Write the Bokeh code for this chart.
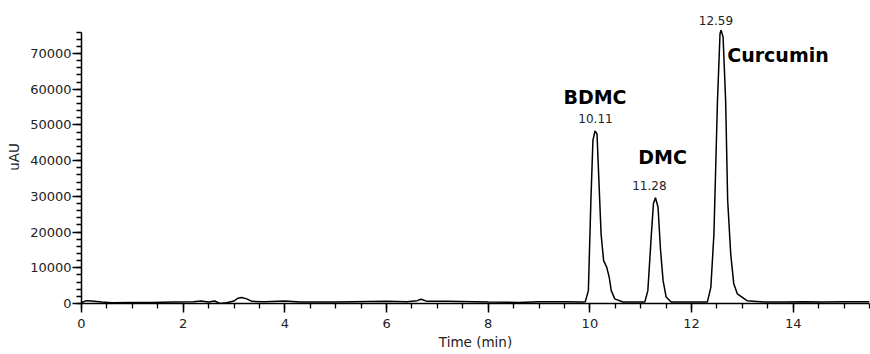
from bokeh.plotting import figure
from bokeh.models import FixedTicker, Range1d, Label
from bokeh.embed import file_html
from bokeh.resources import INLINE

# chromatogram trace (time in min, signal in uAU)
base1_t = [0.0, 0.1, 0.2, 0.4, 0.6, 1.0, 1.4, 1.8, 2.2, 2.35, 2.5, 2.62, 2.72, 2.85, 3.0, 3.08, 3.15, 3.25, 3.35, 3.6, 4.0, 4.3, 5.0, 6.0, 6.4, 6.6, 6.68, 6.8, 7.2, 8.0, 8.6, 9.0, 9.5, 9.85]
base1_y = [300, 800, 700, 400, 200, 300, 300, 400, 500, 700, 400, 700, 0, 200, 700, 1500, 1700, 1300, 600, 500, 700, 400, 400, 600, 500, 800, 1200, 600, 600, 400, 300, 500, 500, 450]
bdmc_t = [9.91, 9.97, 10.02, 10.06, 10.10, 10.14, 10.18, 10.22, 10.27, 10.33, 10.38, 10.42, 10.49, 10.65]
bdmc_y = [500, 3600, 28900, 45700, 48300, 47500, 33500, 19500, 12000, 10200, 7400, 3600, 1300, 400]
gap1_t = [10.8, 10.95]
gap1_y = [400, 400]
dmc_t = [11.08, 11.14, 11.21, 11.25, 11.29, 11.34, 11.39, 11.44, 11.50, 11.60]
dmc_y = [400, 3600, 19500, 28000, 29600, 27000, 14900, 6400, 1800, 400]
gap2_t = [11.9, 12.2]
gap2_y = [400, 400]
cur_t = [12.31, 12.38, 12.44, 12.51, 12.56, 12.58, 12.62, 12.67, 12.71, 12.77, 12.83, 12.90, 13.09, 13.42]
cur_y = [400, 4600, 19500, 56900, 75600, 76500, 74600, 56900, 28900, 13900, 5500, 2700, 800, 400]
base2_t = [13.8, 14.2, 14.6, 15.0, 15.5]
base2_y = [450, 500, 400, 500, 500]

peak_names = ["BDMC", "DMC", "Curcumin"]
peak_rt = ["10.11", "11.28", "12.59"]
name_x = [10.10, 11.43, 13.70]
name_y = [57700, 40900, 69500]
rt_x = [10.11, 11.17, 12.48]
rt_y = [51800, 33000, 79300]

x_ticks = [0, 2, 4, 6, 8, 10, 12, 14]
y_ticks = [0, 10000, 20000, 30000, 40000, 50000, 60000, 70000]

t = base1_t + bdmc_t + gap1_t + dmc_t + gap2_t + cur_t + base2_t
y = base1_y + bdmc_y + gap1_y + dmc_y + gap2_y + cur_y + base2_y

FONT = "DejaVu Sans"

p = figure(width=870, height=354, output_backend="svg", toolbar_location=None,
           x_range=Range1d(0, 15.5), y_range=Range1d(0, 82040),
           min_border_left=81, min_border_right=1, min_border_top=10, min_border_bottom=51)
p.outline_line_color = None
p.xgrid.visible = False
p.ygrid.visible = False
p.background_fill_color = "white"
p.border_fill_color = "white"

p.line(t, y, line_color="black", line_width=1.5)

p.xaxis.ticker = FixedTicker(ticks=x_ticks, minor_ticks=[i * 0.5 for i in range(0, 32)])
p.yaxis.ticker = FixedTicker(ticks=y_ticks, minor_ticks=[i * 2000 for i in range(0, 39)])
p.xaxis.bounds = (0, 15.5)
p.yaxis.bounds = (0, 76000)

for ax in (p.xaxis[0], p.yaxis[0]):
    ax.axis_line_color = "black"
    ax.axis_line_width = 1.5
    ax.major_tick_line_color = "black"
    ax.major_tick_line_width = 1.5
    ax.minor_tick_line_color = "black"
    ax.minor_tick_line_width = 1.3
    ax.major_tick_in = 0
    ax.minor_tick_in = 0
    ax.major_tick_out = 9
    ax.minor_tick_out = 5
    ax.major_label_text_font = FONT
    ax.major_label_text_font_size = "13px"
    ax.major_label_text_color = "#222222"
    ax.axis_label_text_font = FONT
    ax.axis_label_text_font_size = "13.5px"
    ax.axis_label_text_font_style = "normal"
    ax.axis_label_text_color = "#222222"

p.xaxis.axis_label = "Time (min)"
p.yaxis.axis_label = "uAU"
p.xaxis.major_label_standoff = 6
p.yaxis.major_label_standoff = 1
p.xaxis.axis_label_standoff = 3
p.yaxis.axis_label_standoff = 5

for nm, nx, ny in zip(peak_names, name_x, name_y):
    p.add_layout(Label(x=nx, y=ny, text=nm, text_font=FONT, text_font_style="bold",
                       text_font_size="19px", text_align="center", text_baseline="middle",
                       text_color="black"))
for rt, rx, ry in zip(peak_rt, rt_x, rt_y):
    p.add_layout(Label(x=rx, y=ry, text=rt, text_font=FONT,
                       text_font_size="12px", text_align="center", text_baseline="middle",
                       text_color="#222222"))

open("out.html", "w").write(file_html(p, INLINE))
